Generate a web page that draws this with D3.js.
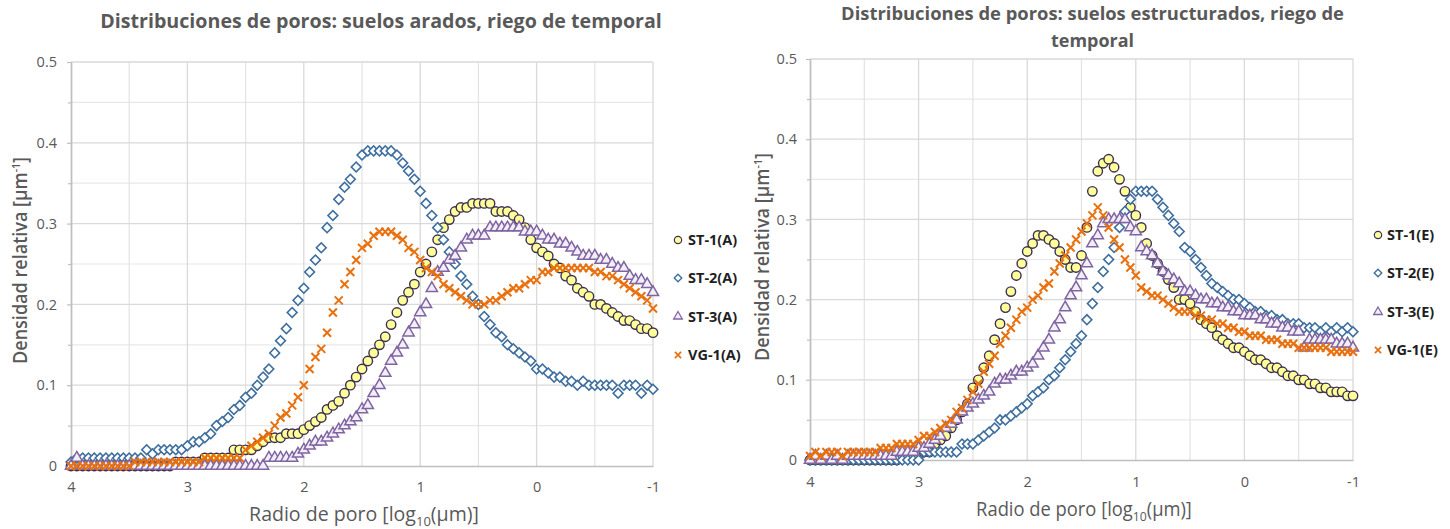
<!DOCTYPE html>
<html>
<head>
<meta charset="utf-8">
<script src="https://cdn.jsdelivr.net/npm/d3@7"></script>
<style>
  body{margin:0;background:#fff;}
  text{font-family:'Open Sans','DejaVu Sans',sans-serif;}
</style>
</head>
<body>
<div class="chart-container"></div>
<script>
//Data
const radius = [
  4.00,3.95,3.90,3.85,3.80,3.75,3.70,3.65,3.60,3.55,
  3.50,3.45,3.40,3.35,3.30,3.25,3.20,3.15,3.10,3.05,
  3.00,2.95,2.90,2.85,2.80,2.75,2.70,2.65,2.60,2.55,
  2.50,2.45,2.40,2.35,2.30,2.25,2.20,2.15,2.10,2.05,
  2.00,1.95,1.90,1.85,1.80,1.75,1.70,1.65,1.60,1.55,
  1.50,1.45,1.40,1.35,1.30,1.25,1.20,1.15,1.10,1.05,
  1.00,0.95,0.90,0.85,0.80,0.75,0.70,0.65,0.60,0.55,
  0.50,0.45,0.40,0.35,0.30,0.25,0.20,0.15,0.10,0.05,
  0.00,-0.05,-0.10,-0.15,-0.20,-0.25,-0.30,-0.35,-0.40,-0.45,
  -0.50,-0.55,-0.60,-0.65,-0.70,-0.75,-0.80,-0.85,-0.90,-0.95,
  -1.00];

// suelos arados
const st1A = [
  0,0,0,0,0,0,0,0,0,0,
  0,0,0,0,0,0,0,0,0.005,0.005,
  0.005,0.005,0.005,0.01,0.01,0.01,0.01,0.01,0.02,0.02,
  0.02,0.02,0.025,0.03,0.035,0.035,0.035,0.04,0.04,0.04,
  0.045,0.05,0.055,0.06,0.07,0.075,0.08,0.09,0.1,0.11,
  0.12,0.13,0.14,0.15,0.16,0.175,0.19,0.205,0.215,0.225,
  0.24,0.25,0.265,0.28,0.295,0.305,0.315,0.32,0.32,0.325,
  0.325,0.325,0.325,0.315,0.315,0.315,0.31,0.305,0.295,0.28,
  0.27,0.265,0.26,0.25,0.245,0.235,0.23,0.22,0.215,0.21,
  0.2,0.2,0.195,0.19,0.185,0.18,0.18,0.175,0.17,0.17,0.165];
const st2A = [
  0.005,0.01,0.01,0.01,0.01,0.01,0.01,0.01,0.01,0.01,
  0.01,0.01,0.01,0.02,0.015,0.02,0.02,0.02,0.02,0.02,
  0.025,0.03,0.03,0.035,0.04,0.05,0.055,0.06,0.07,0.075,
  0.085,0.09,0.1,0.11,0.12,0.14,0.155,0.17,0.19,0.205,
  0.22,0.24,0.255,0.27,0.295,0.31,0.33,0.345,0.355,0.37,
  0.385,0.39,0.39,0.39,0.39,0.39,0.385,0.375,0.365,0.355,
  0.34,0.325,0.31,0.295,0.28,0.265,0.25,0.235,0.225,0.21,
  0.2,0.185,0.175,0.165,0.16,0.15,0.145,0.14,0.135,0.13,
  0.12,0.12,0.115,0.11,0.11,0.105,0.105,0.1,0.105,0.1,
  0.1,0.1,0.1,0.1,0.09,0.1,0.1,0.1,0.09,0.1,0.095];
const st3A = [
  0,0.01,0,0,0,0,0,0,0,0,
  0,0,0,0,0,0,0,0,0,0,
  0,0,0,0,0,0,0,0,0,0,
  0,0,0,0,0.01,0.01,0.01,0.01,0.01,0.015,
  0.02,0.025,0.03,0.03,0.035,0.04,0.045,0.05,0.055,0.06,
  0.07,0.075,0.09,0.1,0.115,0.13,0.14,0.15,0.165,0.175,
  0.19,0.2,0.22,0.24,0.245,0.255,0.26,0.27,0.28,0.285,
  0.285,0.285,0.295,0.295,0.295,0.295,0.295,0.295,0.29,0.29,
  0.29,0.285,0.28,0.28,0.275,0.275,0.27,0.265,0.26,0.26,
  0.26,0.255,0.255,0.25,0.245,0.245,0.235,0.23,0.23,0.225,0.215];
const vg1A = [
  0,0,0,0,0,0,0,0,0,0,
  0,0.005,0.005,0.005,0.005,0.005,0.005,0.005,0.005,0.005,
  0.005,0.005,0.005,0.01,0.01,0.01,0.01,0.01,0.01,0.01,
  0.02,0.025,0.03,0.035,0.04,0.05,0.06,0.065,0.075,0.085,
  0.1,0.12,0.135,0.145,0.165,0.19,0.205,0.225,0.24,0.255,
  0.27,0.275,0.285,0.29,0.29,0.29,0.285,0.28,0.27,0.265,
  0.255,0.245,0.24,0.235,0.225,0.22,0.215,0.21,0.205,0.2,
  0.2,0.2,0.205,0.205,0.21,0.215,0.22,0.22,0.225,0.23,
  0.23,0.24,0.24,0.245,0.245,0.245,0.245,0.245,0.245,0.245,
  0.24,0.24,0.235,0.235,0.23,0.225,0.22,0.215,0.21,0.205,0.195];

// suelos estructurados
const st1E = [
  0,0,0,0,0,0,0,0,0,0,
  0,0,0,0,0,0,0,0.005,0.005,0.005,
  0.005,0.01,0.01,0.02,0.025,0.03,0.04,0.05,0.06,0.07,
  0.09,0.1,0.115,0.13,0.15,0.17,0.19,0.21,0.23,0.245,
  0.26,0.27,0.28,0.28,0.275,0.27,0.26,0.25,0.24,0.24,
  0.255,0.29,0.335,0.36,0.37,0.375,0.365,0.35,0.335,0.315,
  0.305,0.29,0.27,0.255,0.245,0.235,0.225,0.215,0.2,0.2,
  0.195,0.185,0.175,0.17,0.165,0.155,0.15,0.145,0.14,0.14,
  0.135,0.13,0.125,0.125,0.12,0.115,0.115,0.11,0.105,0.105,
  0.1,0.1,0.095,0.095,0.09,0.09,0.085,0.085,0.085,0.08,0.08];
const st2E = [
  0,0,0,0,0,0,0,0,0,0,
  0,0,0,0,0,0,0,0,0,0,
  0,0.01,0.01,0.01,0.01,0.01,0.01,0.01,0.02,0.02,
  0.02,0.025,0.03,0.035,0.04,0.05,0.05,0.055,0.06,0.065,
  0.07,0.08,0.085,0.09,0.1,0.105,0.115,0.125,0.135,0.145,
  0.155,0.175,0.195,0.215,0.235,0.25,0.265,0.29,0.31,0.325,
  0.335,0.335,0.335,0.335,0.325,0.315,0.305,0.295,0.285,0.265,
  0.26,0.25,0.24,0.23,0.22,0.215,0.21,0.205,0.2,0.2,
  0.195,0.19,0.185,0.185,0.18,0.18,0.175,0.175,0.17,0.17,
  0.17,0.165,0.165,0.165,0.16,0.165,0.16,0.165,0.16,0.165,0.16];
const st3E = [
  0,0.005,0,0.005,0,0.005,0,0.005,0.005,0.005,
  0.005,0.005,0.005,0.005,0.005,0.005,0.01,0.01,0.01,0.01,
  0.015,0.015,0.02,0.025,0.03,0.04,0.045,0.05,0.06,0.065,
  0.07,0.075,0.08,0.085,0.095,0.1,0.1,0.105,0.11,0.11,
  0.115,0.12,0.13,0.14,0.15,0.165,0.175,0.19,0.205,0.215,
  0.23,0.245,0.27,0.28,0.295,0.3,0.3,0.3,0.3,0.29,
  0.285,0.265,0.26,0.255,0.245,0.235,0.23,0.225,0.22,0.21,
  0.21,0.205,0.2,0.2,0.195,0.195,0.19,0.19,0.185,0.185,
  0.18,0.18,0.18,0.175,0.175,0.17,0.17,0.165,0.165,0.16,
  0.16,0.14,0.15,0.15,0.15,0.15,0.15,0.145,0.145,0.145,0.14];
const vg1E = [
  0.005,0.01,0.005,0.01,0.01,0.01,0.005,0.01,0.01,0.01,
  0.01,0.01,0.01,0.015,0.015,0.015,0.02,0.02,0.02,0.02,
  0.025,0.03,0.03,0.035,0.04,0.045,0.05,0.06,0.065,0.075,
  0.085,0.095,0.11,0.12,0.13,0.145,0.155,0.165,0.175,0.185,
  0.19,0.2,0.205,0.215,0.22,0.235,0.245,0.255,0.265,0.275,
  0.285,0.295,0.305,0.315,0.305,0.29,0.275,0.265,0.25,0.24,
  0.23,0.215,0.21,0.205,0.205,0.2,0.195,0.19,0.185,0.185,
  0.185,0.18,0.18,0.175,0.175,0.17,0.17,0.165,0.165,0.16,
  0.16,0.155,0.155,0.155,0.15,0.15,0.15,0.145,0.145,0.145,
  0.14,0.14,0.14,0.14,0.14,0.14,0.135,0.135,0.135,0.135,0.135];

const namesA = ['ST-1(A)','ST-2(A)','ST-3(A)','VG-1(A)'];
const namesE = ['ST-1(E)','ST-2(E)','ST-3(E)','VG-1(E)'];

const yTicks = [0,0.1,0.2,0.3,0.4,0.5];
const yMinorTicks = [0.05,0.15,0.25,0.35,0.45];
const xTicks = [4,3,2,1,0,-1];
const xMinorTicks = [3.5,2.5,1.5,0.5,-0.5];

//Styles
const markerStyles = [
  {shape:'circle',  fill:'#ffff99', stroke:'#3b2f52', width:1.4, size:70},
  {shape:'diamond', fill:'#ffffff', stroke:'#3f6f9e', width:1.6, size:48},
  {shape:'triangle',fill:'#f2eef7', stroke:'#8064a2', width:1.5, size:54},
  {shape:'cross',   fill:'none',    stroke:'#e8700e', width:2,   size:64}
];

function markerPath(st, scale){
  const s = st.size*(scale||1);
  if(st.shape==='circle') return d3.symbol().type(d3.symbolCircle).size(s)();
  if(st.shape==='diamond') return d3.symbol().type(d3.symbolSquare).size(s)();
  if(st.shape==='triangle') return d3.symbol().type(d3.symbolTriangle).size(s)();
  const h = Math.sqrt(s)/2;
  return `M${-h},${-h}L${h},${h}M${-h},${h}L${h},${-h}`;
}

// squeeze a text horizontally to a given width (Calibri look)
function placeText(svg, lines, cx, cy, rot, target, size, weight){
  const t = svg.append('text')
    .attr('text-anchor','middle')
    .style('font-size',size+'px')
    .style('font-weight',weight)
    .style('fill','#595959');
  lines.forEach(p=>{
    t.append('tspan').text(p.text)
      .attr('dy',p.dy||0)
      .style('font-size',p.size?p.size+'px':null);
  });
  const w = t.node().getBBox().width;
  t.attr('transform',`translate(${cx},${cy}) rotate(${rot}) scale(${target/w},1)`);
  return t;
}

function setupCanvas(){
  const svg = d3.select('.chart-container').append('svg')
    .attr('width',1450).attr('height',529);
  svg.append('rect').attr('width',1450).attr('height',529).attr('fill','#fff');
  return svg;
}

function drawPanel(svg, panel){
  const xScale = d3.scaleLinear().domain([4,-1]).range([panel.left,panel.right]);
  const yScale = d3.scaleLinear().domain([0,0.5]).range([panel.bottom,panel.top]);
  const g = svg.append('g');

  g.selectAll('.hminor').data(yMinorTicks).enter().append('line')
    .attr('x1',panel.left).attr('x2',panel.right)
    .attr('y1',d=>yScale(d)).attr('y2',d=>yScale(d))
    .attr('stroke','#e8e8e8').attr('stroke-width',1.2);
  g.selectAll('.vminor').data(xMinorTicks).enter().append('line')
    .attr('x1',d=>xScale(d)).attr('x2',d=>xScale(d))
    .attr('y1',panel.top).attr('y2',panel.bottom)
    .attr('stroke','#e3e3e3').attr('stroke-width',1.2);
  g.selectAll('.hmajor').data(yTicks.slice(1)).enter().append('line')
    .attr('x1',panel.left).attr('x2',panel.right)
    .attr('y1',d=>yScale(d)).attr('y2',d=>yScale(d))
    .attr('stroke','#d9d9d9').attr('stroke-width',1.3);
  g.selectAll('.vmajor').data(xTicks.slice(1)).enter().append('line')
    .attr('x1',d=>xScale(d)).attr('x2',d=>xScale(d))
    .attr('y1',panel.top).attr('y2',panel.bottom)
    .attr('stroke','#d9d9d9').attr('stroke-width',1.3);

  const yAxis = d3.axisLeft(yScale).tickValues(yTicks).tickSize(4).tickSizeOuter(0)
    .tickPadding(panel.yPad).tickFormat(d=>d===0?'0':d3.format('.1f')(d));
  const yMinor = d3.axisLeft(yScale).tickValues(yMinorTicks).tickSize(3).tickSizeOuter(0).tickFormat('');
  const xAxis = d3.axisBottom(xScale).tickValues(xTicks).tickSize(0).tickSizeOuter(0)
    .tickPadding(panel.xPad).tickFormat(d=>String(d));

  const yMinorDraw = g.append('g').attr('transform',`translate(${panel.left},0)`).call(yMinor);
  const yAxisDraw = g.append('g').attr('transform',`translate(${panel.left},0)`).call(yAxis);
  const xAxisDraw = g.append('g').attr('transform',`translate(0,${panel.bottom})`).call(xAxis);
  [yMinorDraw,yAxisDraw,xAxisDraw].forEach(a=>{
    a.select('.domain').attr('stroke','#bfbfbf').attr('stroke-width',1.4);
    a.selectAll('.tick line').attr('stroke','#bfbfbf').attr('stroke-width',1.2);
    a.selectAll('text').style('font-size','14.5px').style('fill','#595959')
      .style('font-family',"'Open Sans',sans-serif");
  });

  panel.series.forEach((values,i)=>{
    const st = markerStyles[i];
    const pts = radius.map((r,k)=>({r:r,v:values[k]}));
    g.append('g').selectAll('path').data(pts).enter().append('path')
      .attr('d',markerPath(st))
      .attr('transform',d=>`translate(${xScale(d.r)},${yScale(d.v)})`+(st.shape==='diamond'?' rotate(45)':''))
      .attr('fill',st.fill).attr('stroke',st.stroke).attr('stroke-width',st.width);
  });

  // legend
  const legend = g.append('g');
  panel.names.forEach((name,i)=>{
    const st = markerStyles[i];
    const item = legend.append('g')
      .attr('transform',`translate(${panel.legendX},${panel.legendY[i]})`);
    item.append('path').attr('d',markerPath(st,0.6))
      .attr('transform',st.shape==='diamond'?'rotate(45)':null)
      .attr('fill',st.fill).attr('stroke',st.stroke).attr('stroke-width',st.width*0.85);
    item.append('text').text(name)
      .attr('x',panel.legendText).attr('dy','0.36em')
      .style('font-size','14.5px').style('font-weight',700).style('fill','#1f1f1f');
  });

  panel.title.forEach(t=>placeText(svg,[{text:t.text}],t.x,t.y,0,t.w,t.size,700));
  placeText(svg,[{text:'Densidad relativa [μm'},{text:'-1',dy:-7,size:11},{text:']',dy:7}],
    panel.yLabel.x,panel.yLabel.y,-90,panel.yLabel.w,19,600);
  placeText(svg,[{text:'Radio de poro [log'},{text:'10',dy:5,size:13},{text:'(μm)]',dy:-5}],
    panel.xLabel.x,panel.xLabel.y,0,panel.xLabel.w,19.5,400);
}

//Main
function ready(){
  const svg = setupCanvas();
  drawPanel(svg,{
    left:71,right:653,top:62,bottom:466,yPad:10,xPad:16,
    series:[st1A,st2A,st3A,vg1A],names:namesA,
    legendX:678,legendText:10,legendY:[240,278,316.5,355],
    title:[{text:'Distribuciones de poros: suelos arados, riego de temporal',x:381,y:27.5,w:562,size:20}],
    yLabel:{x:27,y:260.5,w:207},
    xLabel:{x:364,y:520.5,w:230}
  });
  drawPanel(svg,{
    left:810,right:1353,top:59,bottom:460,yPad:9,xPad:17,
    series:[st1E,st2E,st3E,vg1E],names:namesE,
    legendX:1378,legendText:9,legendY:[235,273,312,350],
    title:[{text:'Distribuciones de poros: suelos estructurados, riego de',x:1092.5,y:20,w:503,size:18},
           {text:'temporal',x:1092.5,y:47,w:83,size:18}],
    yLabel:{x:769,y:257,w:208},
    xLabel:{x:1084,y:516,w:216}
  });
}

ready();
</script>
</body>
</html>
